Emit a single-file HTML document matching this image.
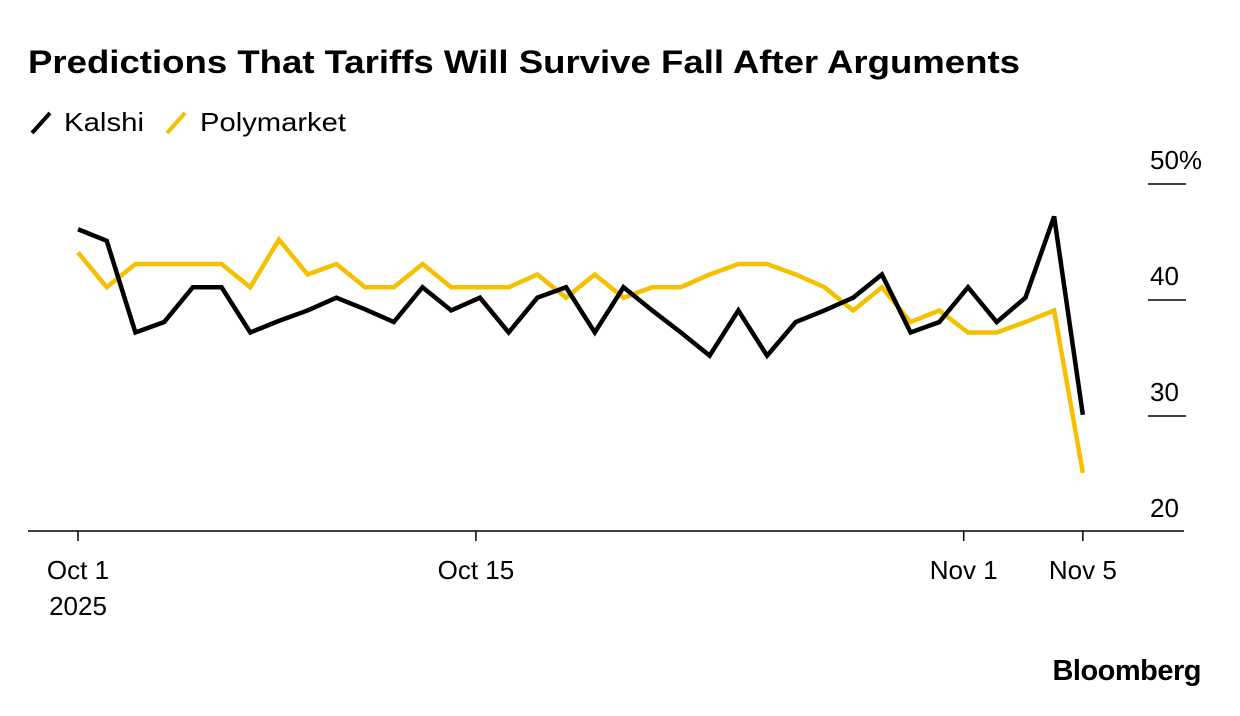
<!DOCTYPE html>
<html><head><meta charset="utf-8"><style>
body{margin:0;background:#fff;font-family:"Liberation Sans",Arial,sans-serif;}
svg{display:block}
</style></head><body>
<svg width="1240" height="716">
<text x="28" y="73" font-size="32" font-weight="bold" fill="#000" textLength="992" lengthAdjust="spacingAndGlyphs">Predictions That Tariffs Will Survive Fall After Arguments</text>
<g>
<line x1="32" y1="133" x2="50" y2="113" stroke="#000" stroke-width="4"/>
<text x="64" y="131" font-size="26" textLength="80" lengthAdjust="spacingAndGlyphs">Kalshi</text>
<line x1="167" y1="133" x2="185" y2="113" stroke="#f5c000" stroke-width="4"/>
<text x="200" y="131" font-size="26" textLength="146" lengthAdjust="spacingAndGlyphs">Polymarket</text>
</g>
<g id="axes"></g>
<g id="series"></g>
<text x="1201" y="680" font-size="29" font-weight="bold" text-anchor="end" letter-spacing="-0.5">Bloomberg</text>
</svg>
<script>
const kalshi=[46.1,45.1,37.2,38.1,41.1,41.1,37.2,38.2,39.1,40.2,39.2,38.1,41.1,39.1,40.2,37.2,40.2,41.1,37.2,41.1,39.1,37.2,35.2,39.1,35.2,38.1,39.1,40.2,42.2,37.2,38.1,41.1,38.1,40.2,47.2,30.1];
const polymarket=[44.1,41.1,43.1,43.1,43.1,43.1,41.1,45.2,42.2,43.1,41.1,41.1,43.1,41.1,41.1,41.1,42.2,40.2,42.2,40.2,41.1,41.1,42.2,43.1,43.1,42.2,41.1,39.1,41.1,38.1,39.1,37.2,37.2,38.1,39.1,25.1];
const yTicks=[20,30,40,50];
const xTickDays=[0,13.86,30.85,35];
const xTickLabels=["Oct 1","Oct 15","Nov 1","Nov 5"];
const NS="http://www.w3.org/2000/svg";
const x=d=>78+d*28.71;
const y=v=>532-(v-20)*11.6;
const axes=document.getElementById('axes'),series=document.getElementById('series');
function mk(tag,attrs,parent){const e=document.createElementNS(NS,tag);for(const k in attrs)e.setAttribute(k,attrs[k]);parent.appendChild(e);return e;}
const base=mk('line',{x1:28,x2:1184,y1:531,y2:531,stroke:'#000','stroke-width':1.5},axes);


yTicks.forEach((v,i)=>{
  if(v>20){const l=mk('line',{x1:1148,x2:1186,y1:y(v),y2:y(v),stroke:'#000','stroke-width':1.5},axes);
  
  }
  const t=mk('text',{x:1150,y:y(v)-15,'font-size':26},axes);
  t.textContent=v+(v===50?'%':'');
  
  
});
xTickDays.forEach((d,i)=>{
  const l=mk('line',{x1:x(d),x2:x(d),y1:531,y2:541,stroke:'#000','stroke-width':1.5},axes);
  
  
  const t=mk('text',{x:x(d),y:579,'font-size':26,'text-anchor':'middle'},axes);
  t.textContent=xTickLabels[i];
  
  
});
const yr=mk('text',{x:x(0),y:615,'font-size':26,'text-anchor':'middle'},axes);
yr.textContent='2025';


function line(arr,color,name){
  const p=mk('polyline',{points:arr.map((v,i)=>x(i)+','+y(v)).join(' '),fill:'none',stroke:color,'stroke-width':4.5,'stroke-linejoin':'miter'},series);
  
  
}
line(polymarket,'#f5c000','polymarket-line');
line(kalshi,'#000','kalshi-line');
</script>
</body></html>
